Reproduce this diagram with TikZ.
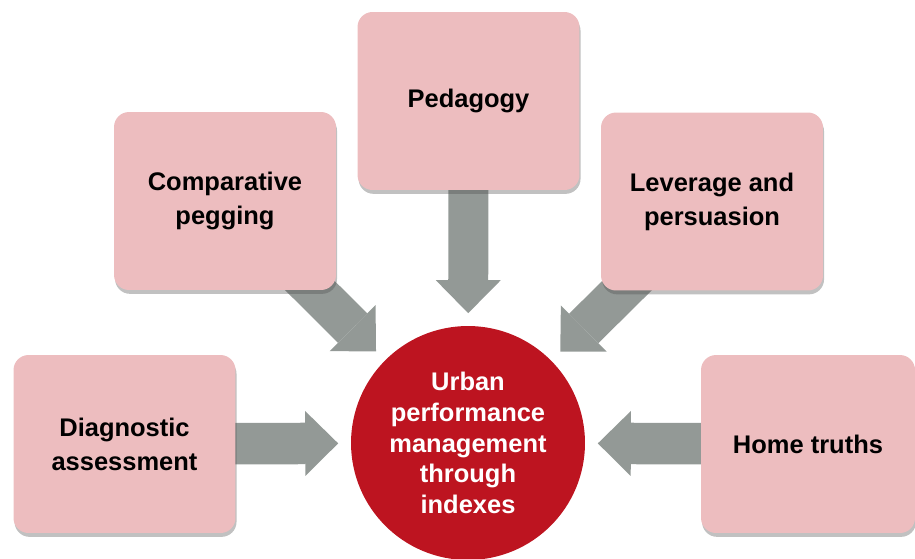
\documentclass[tikz,border=0pt]{standalone}
\usepackage{fontspec}
\setmainfont{Liberation Sans}
\usetikzlibrary{arrows.meta}
\usetikzlibrary{shadows}
\usetikzlibrary{backgrounds}

\definecolor{boxpink}{HTML}{EDBDBF}
\definecolor{hubred}{HTML}{BD1420}
\definecolor{arrowgrey}{HTML}{939996}

\tikzset{
  idea/.style={rectangle, rounded corners=0.3cm, fill=boxpink, inner sep=0pt,
    minimum width=4.44cm, minimum height=3.56cm, align=center,
    font=\fontsize{14.5}{19.3}\selectfont\bfseries,
    drop shadow={shadow xshift=0.6pt, shadow yshift=-2.2pt, opacity=0.35, fill=black!70}},
  hub/.style={circle, fill=hubred, text=white, inner sep=0pt, minimum size=4.68cm,
    align=center, font=\fontsize{14.5}{17.4}\selectfont\bfseries},
  feed/.style={draw=arrowgrey, line width=0.83cm, shorten >=0.25cm,
    -{Triangle[width=1.3cm, length=0.66cm, line width=0pt]}},
}

\begin{document}
\begin{tikzpicture}[x=0.02cm, y=-0.02cm]
        \useasboundingbox (0,0) rectangle (915,558);
        \node[idea] (diag) at (124.5,444) {Diagnostic\\assessment};
        \node[idea] (comp) at (225,201) {Comparative\\pegging};
        \node[idea] (ped) at (468.5,101) {Pedagogy};
        \node[idea] (lev) at (712,201.5) {Leverage and\\persuasion};
        \node[idea, minimum width=4.28cm] (home) at (808,444) {Home truths};
        \node[hub] (urban) at (468,443) {Urban\\performance\\management\\through\\indexes};
        \begin{scope}[on background layer]
          \draw[feed] (diag.center) -- (urban);
          \draw[feed] (comp.center) -- (urban);
          \draw[feed, line width=0.8cm] (ped.center) -- (urban);
          \draw[feed] (lev.center) -- (urban);
          \draw[feed] (home.center) -- (urban);
        \end{scope}
    \end{tikzpicture}
\end{document}
